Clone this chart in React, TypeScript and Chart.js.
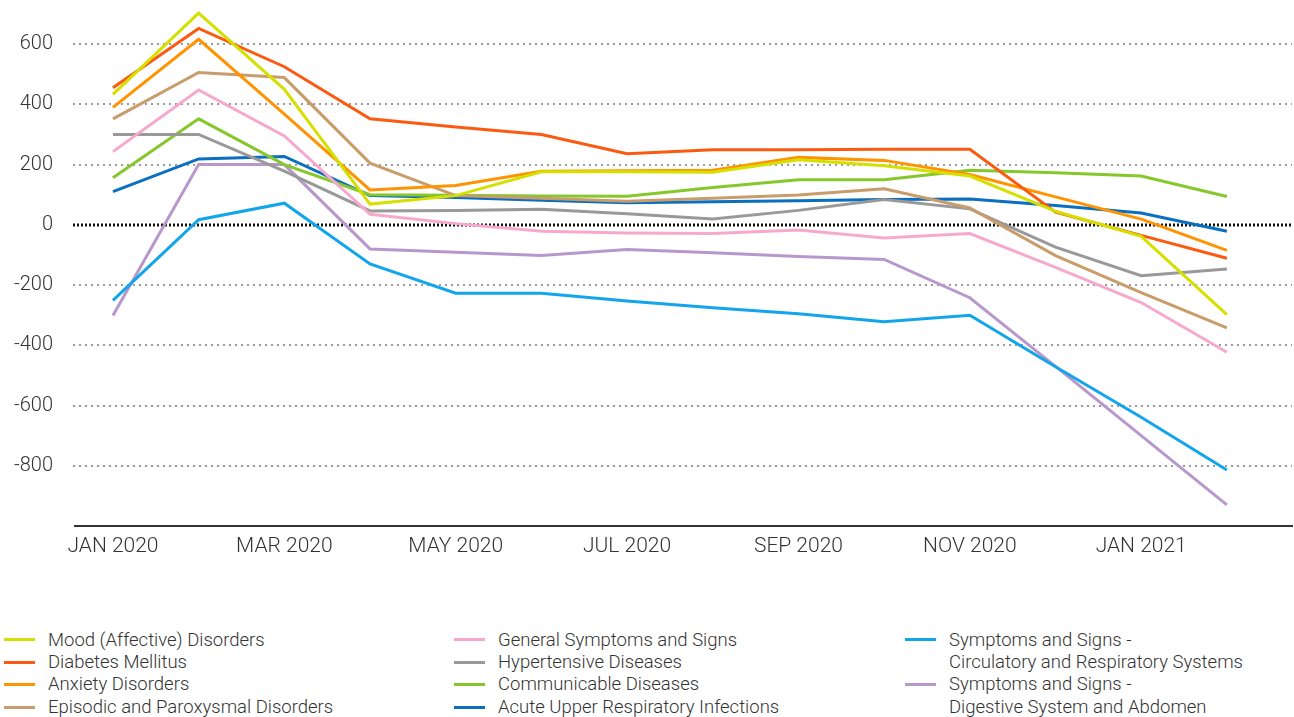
import React, { useEffect, useRef } from 'react';
import { Chart, registerables } from 'chart.js';

Chart.register(...registerables);

const months = [
  'JAN 2020', 'FEB 2020', 'MAR 2020', 'APR 2020', 'MAY 2020', 'JUN 2020', 'JUL 2020',
  'AUG 2020', 'SEP 2020', 'OCT 2020', 'NOV 2020', 'DEC 2020', 'JAN 2021', 'FEB 2021',
];

const yTickValues = [600, 400, 200, 0, -200, -400, -600, -800];
const xTickIndices = [0, 2, 4, 6, 8, 10, 12];

const seriesNames = [
  'Mood (Affective) Disorders',
  'Diabetes Mellitus',
  'Anxiety Disorders',
  'Episodic and Paroxysmal Disorders',
  'General Symptoms and Signs',
  'Hypertensive Diseases',
  'Communicable Diseases',
  'Acute Upper Respiratory Infections',
  'Symptoms and Signs -\nCirculatory and Respiratory Systems',
  'Symptoms and Signs -\nDigestive System and Abdomen',
];

const seriesColors = [
  '#d6e000', '#fb5a10', '#ff9300', '#c99c6c', '#f6a9cc',
  '#999999', '#86c82c', '#0b6fc0', '#12a5ec', '#b898cc',
];

const mood = [433, 703, 450, 69, 97, 176, 176, 175, 216, 196, 162, 45, -38, -298];
const diabetes = [455, 652, 525, 352, 325, 300, 236, 249, 249, 251, 251, 42, -35, -111];
const anxiety = [390, 616, 368, 116, 131, 178, 180, 181, 224, 214, 167, 93, 19, -85];
const episodic = [352, 506, 489, 205, 97, 88, 78, 88, 99, 120, 56, -102, -225, -342];
const generalSymptoms = [243, 448, 295, 35, 4, -21, -27, -29, -17, -44, -29, -141, -258, -423];
const hypertensive = [300, 300, 178, 46, 48, 52, 37, 19, 48, 84, 53, -74, -169, -147];
const communicable = [156, 352, 200, 100, 98, 96, 95, 124, 150, 150, 181, 173, 162, 94];
const acuteURI = [110, 219, 227, 97, 91, 82, 73, 77, 80, 84, 86, 64, 39, -21];
const circulatory = [-251, 17, 72, -130, -227, -227, -253, -275, -295, -322, -300, -471, -639, -814];
const digestive = [-301, 200, 200, -80, -91, -102, -82, -93, -105, -115, -242, -470, -700, -930];

const seriesValues = [
  mood, diabetes, anxiety, episodic, generalSymptoms,
  hypertensive, communicable, acuteURI, circulatory, digestive,
];

const legendColumns = [[0, 1, 2, 3], [4, 5, 6, 7], [8, 9]];
const legendColumnLeft = [4, 454, 905];

const FONT = 'Roboto, "Noto Sans", sans-serif';

const dottedGrid = {
  id: 'dottedGrid',
  beforeDatasetsDraw(chart: any) {
    const { ctx, chartArea, scales } = chart;
    const y = scales.y;
    ctx.save();
    y.ticks.forEach((t: any) => {
      const py = Math.round(y.getPixelForValue(t.value));
      if (t.value === 0) {
        ctx.strokeStyle = '#111111';
        ctx.lineWidth = 3;
        ctx.setLineDash([2, 2]);
      } else {
        ctx.strokeStyle = '#9a9a9a';
        ctx.lineWidth = 2;
        ctx.setLineDash([2, 4]);
      }
      ctx.beginPath();
      ctx.moveTo(chartArea.left - 2, py);
      ctx.lineTo(chartArea.right, py);
      ctx.stroke();
    });
    ctx.restore();
  },
};

export default function App() {
  const canvasRef = useRef<HTMLCanvasElement | null>(null);

  useEffect(() => {
    document.body.style.margin = '0';
    const canvas = canvasRef.current;
    if (!canvas) return;
    const chart = new Chart(canvas, {
      type: 'line',
      data: {
        datasets: seriesNames.map((name, i) => ({
          label: name,
          data: seriesValues[i].map((v, j) => ({ x: j, y: v })),
          borderColor: seriesColors[i],
          backgroundColor: seriesColors[i],
          borderWidth: 3,
          pointRadius: 0,
          tension: 0,
          fill: false,
        })),
      },
      options: {
        animation: false,
        responsive: false,
        maintainAspectRatio: false,
        layout: { padding: { top: 8, right: 2, left: 0, bottom: 0 } },
        plugins: {
          legend: { display: false },
          tooltip: { enabled: false },
        },
        scales: {
          x: {
            type: 'linear',
            min: -0.443,
            max: 13.76,
            grid: { display: false, drawTicks: false },
            border: { display: true, color: '#333333', width: 2 },
            afterBuildTicks: (scale: any) => {
              scale.ticks = xTickIndices.map((v) => ({ value: v }));
            },
            afterFit: (scale: any) => {
              scale.height = 54;
              scale.paddingLeft = 0;
              scale.paddingRight = 0;
            },
            ticks: {
              autoSkip: false,
              maxRotation: 0,
              padding: 8,
              color: '#333333',
              font: { family: FONT, size: 21, weight: 300 },
              callback: (v: any) => months[Number(v)] ?? '',
            },
          },
          y: {
            type: 'linear',
            min: -1000,
            max: 720,
            grid: { display: false, drawTicks: false },
            border: { display: false },
            afterBuildTicks: (scale: any) => {
              scale.ticks = yTickValues.map((v) => ({ value: v }));
            },
            afterFit: (scale: any) => {
              scale.width = 75;
              scale.paddingTop = 0;
              scale.paddingBottom = 0;
            },
            ticks: {
              padding: 22,
              color: '#333333',
              font: { family: FONT, size: 20, weight: 300 },
              callback: (v: any) => String(v),
            },
          },
        },
      },
      plugins: [dottedGrid],
    });
    return () => chart.destroy();
  }, []);

  return (
    <div style={{ position: 'relative', width: 1294, height: 717, fontFamily: FONT }}>
      <canvas
        ref={canvasRef}
        width={1294}
        height={580}
        style={{ position: 'absolute', left: 0, top: 0, width: 1294, height: 580 }}
      />
      {legendColumns.map((col, ci) => (
        <div
          key={ci}
          style={{ position: 'absolute', left: legendColumnLeft[ci], top: 628.5 }}
        >
          {col.map((si) => (
            <div key={si} style={{ display: 'flex', alignItems: 'flex-start' }}>
              <span
                style={{
                  display: 'inline-block',
                  width: 31,
                  height: 3,
                  marginTop: 9.8,
                  marginRight: 13,
                  background: seriesColors[si],
                  flexShrink: 0,
                }}
              />
              <span
                style={{
                  whiteSpace: 'pre',
                  fontSize: 18.5,
                  fontWeight: 300,
                  lineHeight: '22.4px',
                  color: '#333333',
                }}
              >
                {seriesNames[si]}
              </span>
            </div>
          ))}
        </div>
      ))}
    </div>
  );
}
